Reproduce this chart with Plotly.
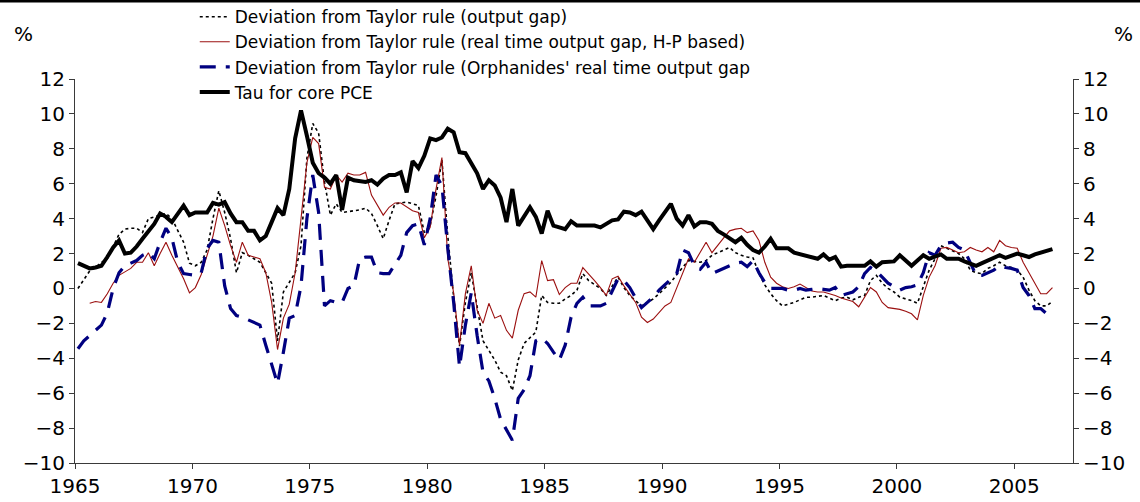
import plotly.graph_objects as go

# Quarterly observations, 1965Q1 .. 2006Q3 (plotted at mid-quarter)
start_year = 1965
n_quarters = 167
quarters = [start_year + (i + 0.5) / 4 for i in range(n_quarters)]

dev_output_gap = [
    0.0, 0.5, 1.0, 1.2, 1.5, 1.7, 2.45, 3.1, 3.4, 3.45,
    3.45, 3.2, 4.0, 4.1, 4.2, 4.3, 4.0, 3.3, 2.65, 1.45,
    1.3, 1.5, 2.2, 4.0, 5.6, 4.35, 2.85, 0.9, 2.05, 1.9,
    1.7, 1.5, 0.9, 0.3, -3.0, -0.2, 0.35, 0.9, 2.45, 7.45,
    9.45, 8.9, 6.1, 4.2, 4.85, 4.35, 4.4, 4.45, 4.5, 4.6,
    4.3, 3.6, 2.85, 3.9, 4.85, 4.9, 4.95, 4.85, 4.75, 3.2,
    3.6, 5.3, 7.35, 3.0, -0.5, -3.3, -0.8, 0.9, -1.0, -3.0,
    -3.55, -4.1, -4.8, -5.0, -5.85, -4.1, -3.15, -2.8, -2.5, -0.4,
    -0.8, -0.85, -0.85, -0.6, -0.4, -0.1, 0.85, 0.45, 0.2, 0.0,
    -0.4, 0.1, 0.65, 0.05, -0.4, -0.7, -1.0, -0.8, -0.6, -0.3,
    0.0, 0.35, 0.8, 1.2, 1.6, 1.55, 1.5, 1.6, 1.9, 2.05,
    2.2, 2.35, 2.05, 1.9, 1.8, 1.75, 0.85, 0.2, -0.3, -0.7,
    -1.0, -0.9, -0.8, -0.65, -0.5, -0.5, -0.45, -0.4, -0.55, -0.7,
    -0.55, -0.5, -0.65, -0.5, -0.4, 0.45, 0.75, 0.3, 0.0, -0.2,
    -0.5, -0.6, -0.7, -0.85, 0.05, 1.05, 1.7, 2.45, 2.3, 2.15,
    2.0, 1.7, 1.05, 0.9, 0.85, 1.15, 1.3, 1.5, 1.3, 1.2,
    1.05, 0.65, -0.1, -0.7, -1.0, -1.0, -0.75,
]

dev_realtime_hp = [
    None, None, -0.85, -0.75, -0.8, -0.3, 0.3, 0.75, 0.95, 1.15,
    1.5, 1.5, 2.05, 1.3, 2.0, 2.65, 1.9, 1.2, 0.55, -0.25,
    0.05, 0.8, 1.9, 3.0, 4.6, 3.6, 2.45, 1.5, 2.65, 1.9,
    1.8, 1.7, 0.9, -0.8, -3.5, -1.7, -0.9, 0.9, 4.0, 7.2,
    8.65, 8.3, 5.8, 5.7, 6.5, 6.1, 6.6, 6.5, 6.5, 6.65,
    5.35, 4.8, 4.2, 4.65, 4.9, 4.9, 4.7, 4.45, 4.35, 2.9,
    3.5, 5.7, 7.5, 1.7, -0.25, -3.25, -0.3, 1.3, -1.25, -2.0,
    -0.85, -1.7, -1.55, -2.4, -2.85, -1.25, -0.3, -0.2, -0.5, 1.6,
    0.45, 0.5, -0.35, 0.05, 0.3, 0.3, 1.2, 0.85, 0.45, 0.05,
    -0.4, 0.55, 0.7, 0.15, -0.3, -0.8, -1.65, -1.95, -1.75, -1.4,
    -1.0, -0.8, 0.05, 0.85, 1.7, 1.5, 2.1, 2.65, 2.05, 2.5,
    2.9, 3.3, 3.4, 3.45, 3.2, 3.3, 2.75, 1.5, 0.65, 0.3,
    0.1, 0.0, 0.1, 0.25, 0.05, -0.15, -0.2, -0.2, -0.3, -0.4,
    -0.55, -0.65, -0.75, -1.05, -0.5, 0.05, -0.2, -0.8, -1.1, -1.15,
    -1.2, -1.3, -1.45, -1.8, -0.4, 0.65, 1.3, 2.3, 2.35, 2.2,
    2.05, 2.1, 2.35, 2.2, 2.1, 2.35, 2.1, 2.75, 2.45, 2.35,
    2.3, 1.5, 0.9, 0.35, -0.3, -0.3, 0.05,
]

dev_orphanides = [
    -3.45, -3.0, -2.7, -2.4, -2.1, -1.4, 0.0, 0.9, 1.3, 1.45,
    1.6, 1.9, 2.05, 1.7, 2.65, 3.45, 2.9, 1.5, 0.85, 0.8,
    0.75, 0.9, 2.3, 2.75, 2.65, 0.15, -1.15, -1.55, -1.65, -1.8,
    -1.95, -2.1, -3.25, -4.3, -5.45, -3.65, -1.7, -1.55, 0.15, 4.0,
    6.5, 4.35, -1.0, -0.7, -0.8, -0.8, 0.0, 0.15, 1.7, 1.8,
    1.8, 0.9, 0.85, 0.85, 1.4, 1.9, 3.2, 3.6, 3.7, 2.5,
    4.0, 6.5, 5.9, 2.3, -0.8, -4.5, -2.1, -0.25, -2.7, -4.8,
    -5.3, -6.3, -7.5, -8.1, -8.7, -6.3, -5.8, -5.0, -3.0, -2.85,
    -3.15, -3.65, -4.1, -3.25, -1.65, -0.85, -0.5, -1.0, -1.0, -1.0,
    -0.85, -0.1, 0.55, 0.45, 0.05, -0.55, -1.1, -0.8, -0.5, -0.1,
    0.2, 0.5, 0.85, 2.2, 2.05, 1.3, 1.1, 1.5, 0.85, 1.0,
    1.15, 1.3, 1.45, 1.5, 1.25, 1.6, 0.9, 0.35, 0.0, 0.0,
    0.0, -0.1, -0.1, 0.0, -0.1, -0.05, 0.0, -0.05, -0.1, 0.05,
    -0.4, -0.3, -0.2, 0.1, 0.85, 1.2, 1.0, 0.65, 0.3, 0.1,
    -0.1, 0.05, 0.1, 0.2, 0.9, 2.05, 1.9, 2.45, 2.6, 2.65,
    2.35, 2.2, 1.45, 0.75, 0.75, 0.9, 1.05, 1.3, 1.2, 1.15,
    1.05, 0.05, -0.4, -1.15, -1.15, -1.45, None,
]

tau_core_pce = [
    1.45, 1.3, 1.15, 1.2, 1.3, 1.8, 2.35, 2.75, 2.0, 2.05,
    2.4, 2.85, 3.3, 3.7, 4.3, 4.1, 3.8, 4.3, 4.75, 4.2,
    4.35, 4.35, 4.35, 4.9, 4.8, 4.95, 4.3, 3.8, 3.8, 3.3,
    3.3, 2.75, 3.0, 3.8, 4.6, 4.2, 5.7, 8.6, 10.2, 8.75,
    7.2, 6.6, 6.35, 6.0, 6.5, 4.5, 6.35, 6.2, 6.15, 6.1,
    6.2, 5.95, 6.3, 6.5, 6.5, 6.65, 5.5, 7.3, 6.9, 7.6,
    8.6, 8.5, 8.65, 9.15, 8.95, 7.8, 7.75, 7.15, 6.6, 5.7,
    6.2, 5.9, 5.2, 3.8, 5.7, 3.6, 4.1, 4.65, 4.1, 3.15,
    4.45, 3.6, 3.5, 3.4, 3.85, 3.6, 3.6, 3.6, 3.6, 3.5,
    3.7, 3.9, 3.95, 4.4, 4.35, 4.2, 4.4, 3.9, 3.4, 3.9,
    4.4, 4.85, 4.0, 3.6, 4.2, 3.55, 3.8, 3.8, 3.7, 3.3,
    3.1, 2.85, 2.65, 2.9, 2.5, 2.2, 2.05, 2.4, 2.85, 2.3,
    2.3, 2.3, 2.05, 1.95, 1.85, 1.75, 1.7, 1.95, 1.65, 1.8,
    1.25, 1.3, 1.3, 1.3, 1.3, 1.55, 1.25, 1.5, 1.5, 1.55,
    1.9, 1.6, 1.3, 1.6, 1.9, 1.7, 1.8, 1.95, 1.7, 1.7,
    1.7, 1.55, 1.45, 1.3, 1.45, 1.6, 1.75, 1.9, 1.75, 1.9,
    2.0, 1.9, 1.8, 1.95, 2.05, 2.2, 2.25,
]

series_names = [
    "Deviation from Taylor rule (output gap)",
    "Deviation from Taylor rule (real time output gap, H-P based)",
    "Deviation from Taylor rule (Orphanides' real time output gap",
    "Tau for core PCE",
]

x_tick_years = [1965, 1970, 1975, 1980, 1985, 1990, 1995, 2000, 2005]
y_ticks = [-10, -8, -6, -4, -2, 0, 2, 4, 6, 8, 10, 12]

FONT = "DejaVu Sans"
AXIS_COLOR = "#3a3a3a"

fig = go.Figure()
fig.add_trace(go.Scatter(x=quarters, y=dev_output_gap, name=series_names[0], mode="lines",
                         line=dict(color="black", width=1.6, dash="dot")))
fig.add_trace(go.Scatter(x=quarters, y=dev_realtime_hp, name=series_names[1], mode="lines",
                         line=dict(color="#9b1010", width=1.1)))
fig.add_trace(go.Scatter(x=quarters, y=dev_orphanides, name=series_names[2], mode="lines",
                         line=dict(color="#000080", width=3.2, dash="16px,10px")))
fig.add_trace(go.Scatter(x=quarters, y=tau_core_pce, name=series_names[3], mode="lines",
                         line=dict(color="black", width=4)))
# same series mirrored on right axis (invisible) so the right scale is drawn
fig.add_trace(go.Scatter(x=quarters, y=tau_core_pce, yaxis="y2", mode="lines",
                         line=dict(color="rgba(0,0,0,0)", width=0), showlegend=False,
                         hoverinfo="skip"))

axis_common = dict(
    range=[-10, 12], tickvals=y_ticks, ticks="outside", ticklen=5, tickwidth=1,
    tickcolor=AXIS_COLOR, showline=True, linecolor=AXIS_COLOR, linewidth=1,
    showgrid=False, zeroline=False, tickfont=dict(family=FONT, size=20, color="black"),
)

fig.update_layout(
    width=1140, height=502,
    margin=dict(l=75, r=67, t=79, b=39, autoexpand=False),
    paper_bgcolor="white", plot_bgcolor="white",
    showlegend=True,
    legend=dict(x=0.12, y=1.208, xanchor="left", yanchor="top",
                bgcolor="rgba(0,0,0,0)", borderwidth=0,
                font=dict(family=FONT, size=17, color="black"),
                tracegroupgap=0, itemwidth=30),
    xaxis=dict(range=[1965, 2007.5], tickvals=x_tick_years, tickformat="d",
               ticks="outside", ticklen=5, tickwidth=1, tickcolor=AXIS_COLOR,
               showline=True, linecolor=AXIS_COLOR, linewidth=1, showgrid=False,
               zeroline=False, tickfont=dict(family=FONT, size=20, color="black")),
    yaxis=dict(side="left", **axis_common),
    yaxis2=dict(side="right", overlaying="y", **axis_common),
    annotations=[
        dict(text="%", xref="paper", yref="paper", x=-52 / 998, y=1 + 45 / 384,
             xanchor="center", yanchor="middle", showarrow=False,
             font=dict(family=FONT, size=20, color="black")),
        dict(text="%", xref="paper", yref="paper", x=1 + 50 / 998, y=1 + 45 / 384,
             xanchor="center", yanchor="middle", showarrow=False,
             font=dict(family=FONT, size=20, color="black")),
    ],
    shapes=[
        dict(type="line", xref="paper", yref="paper", x0=-75 / 998, x1=1 + 67 / 998,
             y0=1 + 78 / 384, y1=1 + 78 / 384, line=dict(color="black", width=3)),
    ],
)

fig.write_html(
    "out.html",
    config={"displayModeBar": False},
    post_script="document.body.style.margin='0';document.body.style.overflow='hidden';",
)
